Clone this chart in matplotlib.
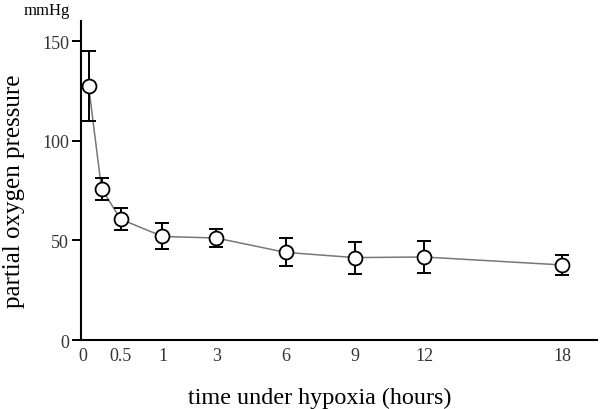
import numpy as np
import matplotlib
matplotlib.use("Agg")
import matplotlib.pyplot as plt

# data
hours = [0.08, 0.25, 0.5, 1, 3, 6, 9, 12, 18]
po2 = [127.5, 76, 60.7, 52, 51.2, 44, 41.4, 41.7, 37.7]
po2_err = [17.5, 5.5, 5.5, 6.5, 4.5, 7, 8, 8, 5.2]

tick_hours = [0, 0.5, 1, 3, 6, 9, 12, 18]
tick_labels = ["0", "0.5", "1", "3", "6", "9", "12", "18"]

# piecewise time axis: stretched below 3 h, linear after
knot_t = np.array([-1, 0, 0.5, 1, 3, 18, 30])
knot_u = np.array([-76, 0, 38, 80, 134, 480, 757])

def fwd(t):
    return np.interp(t, knot_t, knot_u)

def inv(u):
    return np.interp(u, knot_u, knot_t)

plt.rcParams['font.family'] = ['Liberation Serif', 'DejaVu Serif']

fig = plt.figure(figsize=(6, 4.1), dpi=100)
ax = fig.add_axes([0.135, 0.168, 0.86, 0.778])
ax.set_xscale('function', functions=(fwd, inv))

ax.plot(hours, po2, color="#777777", lw=1.1, zorder=1)
ax.errorbar(hours, po2, yerr=po2_err, fmt='none', ecolor='black',
            elinewidth=1.4, capsize=5.3, capthick=1.4, zorder=2)
ax.plot(hours, po2, 'o', ms=10, mfc='white', mec='black', mew=1.3, zorder=3)

ax.set_xlim(-0.02, 19.5)
ax.set_ylim(0, 160)
ax.set_yticks([0, 50, 100, 150])
ax.set_xticks(tick_hours)
ax.set_xticklabels(tick_labels)
ax.xaxis.set_minor_locator(matplotlib.ticker.NullLocator())

for s in ['top', 'right']:
    ax.spines[s].set_visible(False)
ax.spines['left'].set_linewidth(1.5)
ax.spines['bottom'].set_linewidth(1.5)

ax.tick_params(axis='y', length=6.5, width=1.4, pad=2, labelsize=13, labelcolor='#333333')
ax.tick_params(axis='x', length=0, pad=5, labelsize=13, labelcolor='#333333')

ax.set_xlabel("time under hypoxia (hours)", fontsize=17.4)
ax.xaxis.set_label_coords(0.463, -0.145)
ax.set_ylabel("partial oxygen pressure", fontsize=18)
ax.yaxis.set_label_coords(-0.109, 0.47)

fig.text(0.078, 0.972, "mmHg", fontsize=12, ha='center', va='center')

fig.savefig("out.png", dpi=100)
